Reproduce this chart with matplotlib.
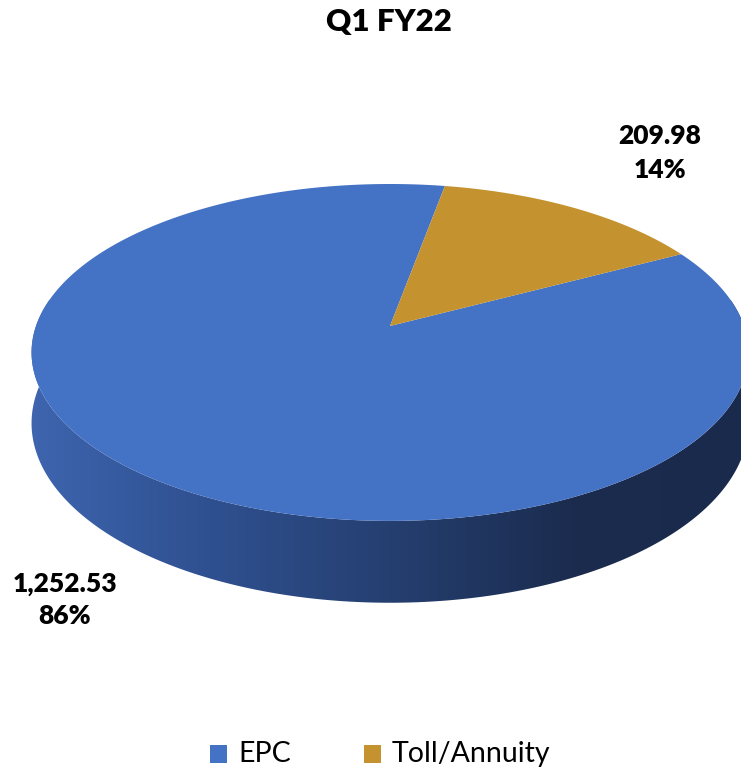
import numpy as np
import matplotlib.pyplot as plt
from matplotlib.patches import Polygon, Rectangle
from matplotlib.colors import LinearSegmentedColormap

categories = ["EPC", "Toll/Annuity"]
values = [1252.53, 209.98]
value_labels = ["1,252.53", "209.98"]
colors = ["#4472C4", "#C4932F"]
title = "Q1 FY22"

# --- layout of the fake 3D pie (pixel coords, y down) ---
W, H = 741, 772
CX, CY = 390, 326      # apex of the slices
S = 354                # horizontal radius
SK = 164.3             # vertical radius
P = 0.157              # perspective factor
DEPTH = 69             # side thickness
START = 28.0           # start angle (deg), slices go clockwise

FONT = ["Lato", "DejaVu Sans"]


def proj(t, drop=0.0):
    u = np.sin(t)
    w = 1 + P * u
    x = CX + S * np.cos(t) / w
    y = CY - SK * u / w + drop / w
    return x, y


fig = plt.figure(figsize=(W / 100, H / 100), dpi=100)
ax = fig.add_axes([0, 0, 1, 1])
ax.set_xlim(0, W)
ax.set_ylim(H, 0)
ax.axis("off")

# --- side band (front half), gradient fill ---
t = np.radians(np.linspace(160, 380, 400))
tx, ty = proj(t)
bx, by = proj(t[::-1], DEPTH)
band = Polygon(np.column_stack([np.r_[tx, bx], np.r_[ty, by]]),
               closed=True, facecolor="none", edgecolor="none")
ax.add_patch(band)
side_cmap = LinearSegmentedColormap.from_list(
    "side", ["#3E65AF", "#2F5090", "#253F70", "#1B2C4F", "#1A2A4C"])
grad = np.linspace(0, 1, 256).reshape(1, -1)
img = ax.imshow(grad, cmap=side_cmap, aspect="auto",
                extent=(28, 752, 620, 300), zorder=1)
img.set_clip_path(band)

# --- top face slices ---
fracs = np.array(values) / sum(values)
a0 = START
for frac, col in zip(fracs, colors):
    a1 = a0 - 360 * frac
    ts = np.radians(np.linspace(a0, a1, 300))
    px, py = proj(ts)
    poly = Polygon(np.column_stack([np.r_[CX, px], np.r_[CY, py]]),
                   closed=True, facecolor=col, edgecolor="none", zorder=2)
    ax.add_patch(poly)
    a0 = a1

# --- data labels ---
pct = [f"{round(f * 100):.0f}%" for f in fracs]
label_pos = [(65, 600), (660, 153)]
for (lx, ly), vl, pc in zip(label_pos, value_labels, pct):
    ax.text(lx, ly, f"{vl}\n{pc}", ha="center", va="center",
            fontsize=19, fontweight="heavy", family=FONT,
            linespacing=1.45, zorder=3)

# --- title ---
ax.text(389, 22, title, ha="center", va="center", fontsize=22.5,
        fontweight="heavy", family=FONT)

# --- legend ---
leg_x = [210, 364]
for lx, cat, col in zip(leg_x, categories, colors):
    ax.add_patch(Rectangle((lx, 745), 17, 18, facecolor=col, edgecolor="none"))
    ax.text(lx + 28, 754, cat, ha="left", va="center", fontsize=20.5,
            family=FONT)

fig.savefig("out.png", dpi=100)
